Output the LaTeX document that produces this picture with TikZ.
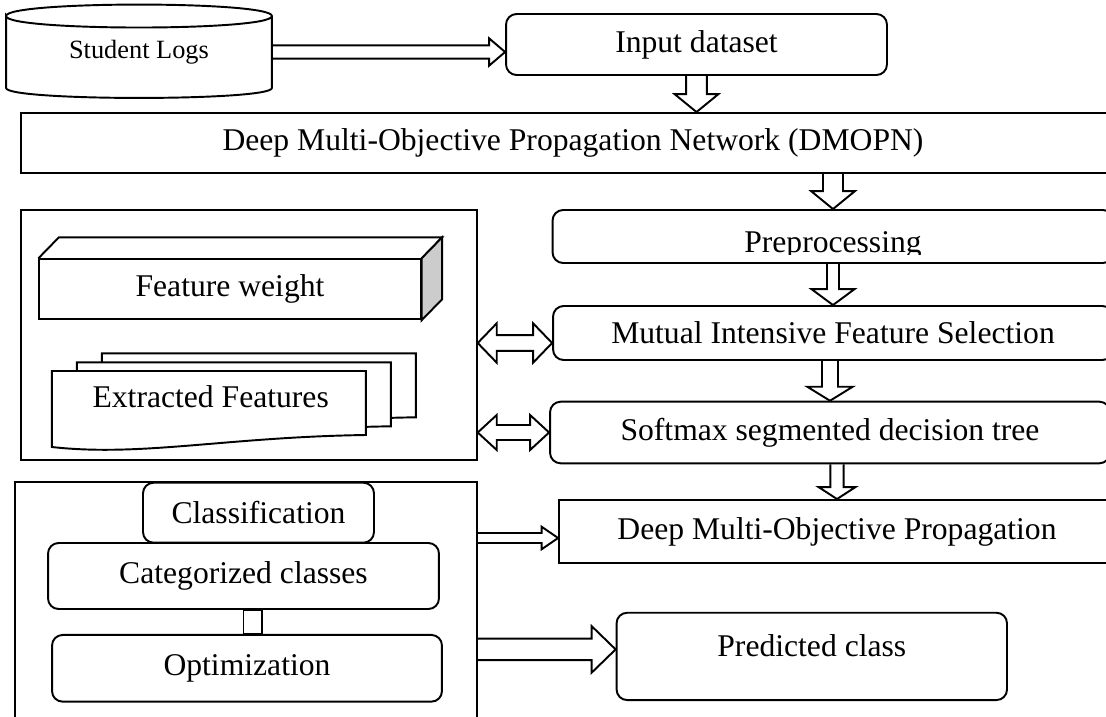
\documentclass[tikz,border=0pt]{standalone}
\usepackage{fontspec}
\setmainfont{Liberation Serif}
\usetikzlibrary{shapes.geometric, calc, positioning}

% hollow block arrows: start, tip, shaft half width, head half width, head length
\newcommand{\blockright}[5]{%
  \draw[hollow] ($(#1)+(0,-#3)$) -- ($(#2)+(-#5,-#3)$) -- ($(#2)+(-#5,-#4)$) -- (#2)
    -- ($(#2)+(-#5,#4)$) -- ($(#2)+(-#5,#3)$) -- ($(#1)+(0,#3)$);}
\newcommand{\blockdown}[5]{%
  \draw[hollow] ($(#1)+(-#3,0)$) -- ($(#2)+(-#3,-#5)$) -- ($(#2)+(-#4,-#5)$) -- (#2)
    -- ($(#2)+(#4,-#5)$) -- ($(#2)+(#3,-#5)$) -- ($(#1)+(#3,0)$);}
\newcommand{\blockboth}[5]{%
  \draw[hollow] (#1) -- ($(#1)+(#5,-#4)$) -- ($(#1)+(#5,-#3)$) -- ($(#2)+(-#5,-#3)$)
    -- ($(#2)+(-#5,-#4)$) -- (#2) -- ($(#2)+(-#5,#4)$) -- ($(#2)+(-#5,#3)$)
    -- ($(#1)+(#5,#3)$) -- ($(#1)+(#5,#4)$) -- cycle;}
% one page of the document stack
\newcommand{\docpage}[2]{%
  \draw[fill=white] (#1,#2) -- ++(314,0) -- ++(0,64)
    .. controls +(-140,2) and +(90,10) .. ++(-314,12) -- cycle;}

\begin{document}
\begin{tikzpicture}[x=0.02cm, y=-0.02cm, line width=1.1pt,
  font=\fontsize{18}{21.6}\selectfont,
  box/.style={draw, rounded corners=6pt, inner sep=0pt},
  plain/.style={draw, inner sep=0pt},
  hollow/.style={draw, line join=miter}]
  \useasboundingbox (0,0) rectangle (1106,717);

  % source and input
  \node[minimum width=5.28cm, minimum height=1.4cm, inner sep=0pt, font=\fontsize{15}{18}\selectfont] (logs) at (139,52) {Student Logs};
  \draw (logs.north west) .. controls +(0,-15.3) and +(0,-15.3) .. (logs.north east)
    .. controls +(0,15.3) and +(0,15.3) .. (logs.north west) -- (logs.south west)
    .. controls +(0,13.3) and +(0,13.3) .. (logs.south east) -- (logs.north east);
  \node[box, minimum width=7.62cm, minimum height=1.22cm] (input) at (696.5,44.5) {Input dataset};
  \node[plain, minimum width=22.08cm, minimum height=1.2cm] (dmopn) at (573,143) {Deep Multi-Objective Propagation Network (DMOPN)};

  % right column
  \node[box, minimum width=11.22cm, minimum height=1.06cm] (pre) at (833,236.5) {};
  \begin{scope}
    \clip (pre.north west) rectangle ($(pre.south east)+(0,-9)$);
    \node[anchor=base] (pretext) at (833,252) {Preprocessing};
  \end{scope}
  \node[box, minimum width=11.2cm, minimum height=1.08cm] (mutual) at (833,333) {Mutual Intensive Feature Selection};
  \node[box, minimum width=11.2cm, minimum height=1.232cm] (soft) at (830,432.5) {Softmax segmented decision tree};
  \node[plain, minimum width=11.12cm, minimum height=1.26cm] (dmop) at (837,531.5) {Deep Multi-Objective Propagation};
  \node[box, minimum width=7.81cm, minimum height=1.746cm, text height=12pt, text depth=11.5pt] (pred) at (811.8,656.4) {Predicted class};

  % feature box
  \node[plain, minimum width=9.108cm, minimum height=5cm] (featbox) at (249.1,335) {};
  \node[plain, minimum width=7.628cm, minimum height=1.2cm] (fw) at (230,289.3) {Feature weight};
  \draw (fw.north west) -- ++(20.5,-21) -- ($(fw.north east)+(20.5,-21)$) -- (fw.north east);
  \draw[fill=gray!40] (fw.north east) -- ++(20.5,-21) -- ($(fw.south east)+(20.5,-21)$) -- (fw.south east) -- cycle;
  \docpage{101.8}{353.3}
  \docpage{76.8}{362.3}
  \docpage{51.8}{371}
  \node (feats) at (210.7,397) {Extracted Features};

  % classification box
  \node[plain, minimum width=9.236cm, minimum height=5.16cm] (clsbox) at (245.9,611) {};
  \node[box, minimum width=4.62cm, minimum height=1.2cm] (cls) at (258.5,512.7) {Classification};
  \node[box, minimum width=7.82cm, minimum height=1.32cm] (cat) at (243.5,576) {Categorized classes};
  \node[box, minimum width=7.8cm, minimum height=1.334cm] (opt) at (247,668.3) {Optimization};
  \draw (cat.south) rectangle ($(opt.north)+(15,0)$);

  % arrows
  \blockright{logs.east}{logs.east -| input.west}{6.7}{13.7}{16}
  \blockdown{input.south}{input.south |- dmopn.north}{10.4}{22}{18}
  \blockdown{dmopn.south -| pre.north}{pre.north}{10}{22}{18}
  \blockdown{pre.south}{mutual.north}{6}{21.6}{16}
  \blockdown{mutual.south -| soft.north}{soft.north}{8}{22.7}{14}
  \blockdown{soft.south -| dmop.north}{dmop.north}{6.6}{18.5}{12}
  \coordinate (mutin) at ($(mutual.west)+(0,10)$);
  \blockboth{featbox.east |- mutin}{mutin}{7.8}{19.7}{19}
  \blockboth{featbox.east |- soft.west}{soft.west}{7.5}{17.5}{19}
  \coordinate (dmopin) at ($(dmop.west)+(0,6.5)$);
  \blockright{clsbox.east |- dmopin}{dmopin}{5}{11.3}{16.5}
  \coordinate (predin) at ($(pred.west)+(0,-7)$);
  \blockright{clsbox.east |- predin}{predin}{10.8}{23.3}{24}
\end{tikzpicture}
\end{document}
